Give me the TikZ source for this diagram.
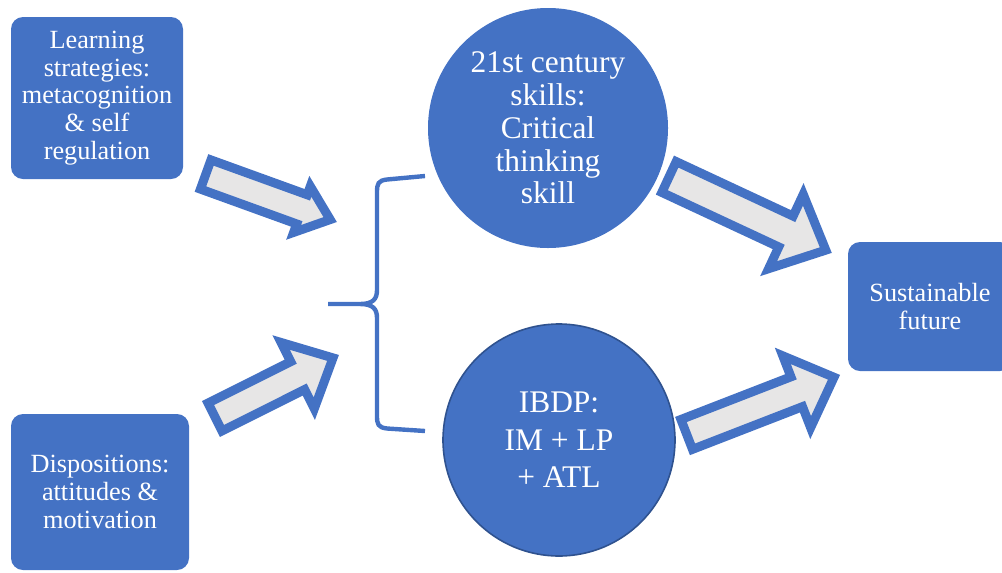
\documentclass[tikz,border=0pt]{standalone}
\usepackage{fontspec}
\setmainfont{Liberation Serif}
\newfontfamily\tnr{Liberation Serif}
\definecolor{blu}{HTML}{4472C4}
\definecolor{dblu}{HTML}{2F528F}
\definecolor{lgray}{HTML}{E7E6E6}
\newcommand\blockarrow[7]{%
  \draw[barrow, shift={(#1,#2)}, rotate=#3]
    (0,-#6) -- (#4-#5,-#6) -- (#4-#5,-#7) -- (#4,0) -- (#4-#5,#7) -- (#4-#5,#6) -- (0,#6) -- cycle;}
\begin{document}
\begin{tikzpicture}[x=0.75pt,y=-0.75pt,
  box/.style={fill=blu, draw=none, rounded corners=9pt, text=white, align=center, inner sep=0pt,
    font=\tnr\fontsize{19.7pt}{20.8pt}\selectfont},
  circ/.style={circle, fill=blu, text=white, align=center, inner sep=0pt},
  barrow/.style={draw=blu, fill=lgray, line width=6.75pt, line join=miter, miter limit=10},
  bracestyle/.style={draw=blu, line width=3.3pt}
]
\useasboundingbox (0,0) rectangle (1002,572);

% boxes
\node[box, minimum width=129pt, minimum height=121.5pt] (learn) at (97,98)
  {Learning\\strategies:\\metacognition\\\& self\\regulation};
\node[box, minimum width=133.5pt, minimum height=117pt] (disp) at (100,492)
  {Dispositions:\\attitudes \&\\motivation};
\node[box, minimum width=123pt, minimum height=96.75pt] (sust) at (930,306.5)
  {Sustainable\\future};

% circles
\node[circ, minimum size=180pt, font=\tnr\fontsize{23.6pt}{24.6pt}\selectfont] (skills) at (548,128)
  {21st century\\skills:\\Critical\\thinking\\skill};
\node[circ, draw=dblu, line width=1.2pt, minimum size=174pt, font=\tnr\fontsize{23.6pt}{28pt}\selectfont] (ibdp) at (559,440)
  {IBDP:\\IM + LP\\+ ATL};

% brace
\coordinate (bt) at (425,176);
\coordinate (bb) at (425,431);
\coordinate (btip) at (328,304);
\draw[bracestyle] (bt) -- (387,179.5) .. controls (378,180.5) and (377,184) .. (377,192)
  -- (377,290) .. controls (377,299) and (373,304) .. (360,304) -- (btip)
  (360,304) .. controls (373,304) and (377,309) .. (377,318)
  -- (377,416) .. controls (377,424) and (378,427.5) .. (387,428.5) -- (bb);

% block arrows: x y angle L hl w h
\blockarrow{205.7}{174.5}{-19.9}{132.4}{30}{15.5}{24.5}
\blockarrow{215}{417}{26.6}{132}{39.5}{15.6}{37}
\blockarrow{669}{177}{-25}{173}{44}{17}{41}
\blockarrow{686.7}{434.4}{21.2}{158}{40}{16}{38.5}
\end{tikzpicture}
\end{document}
